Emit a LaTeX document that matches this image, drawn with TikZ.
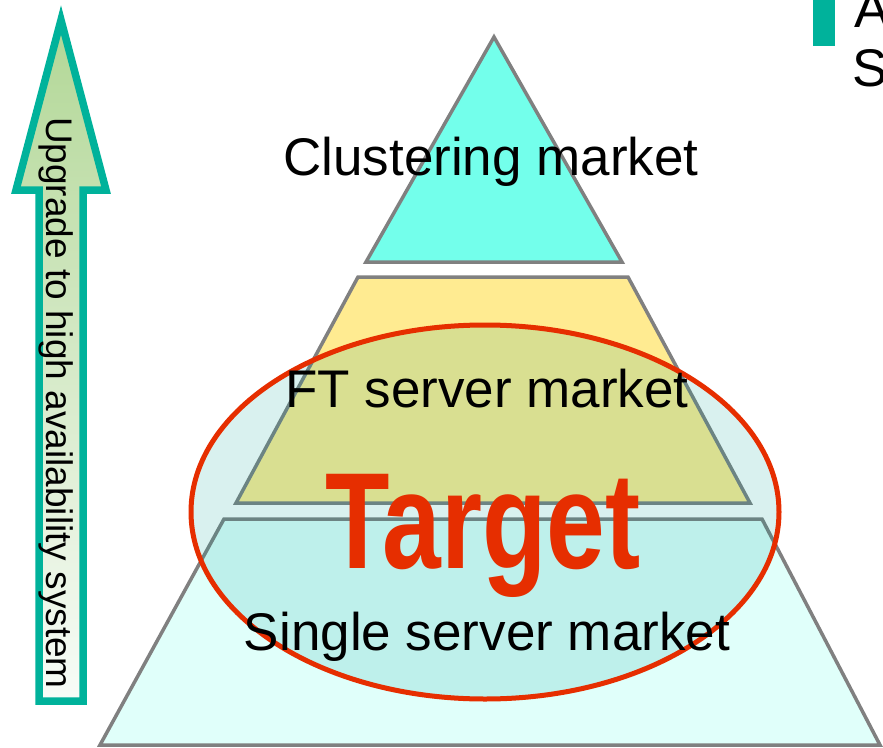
\documentclass[tikz,border=0pt]{standalone}
\usepackage{fontspec}
\setmainfont{Liberation Sans}
\usepackage{graphicx}
\definecolor{clusterfill}{RGB}{115,255,235}
\definecolor{ftfill}{RGB}{255,235,145}
\definecolor{singlefill}{RGB}{224,255,250}
\definecolor{edgegray}{RGB}{128,128,128}
\definecolor{targetred}{RGB}{230,46,0}
\definecolor{ellfill}{RGB}{0,160,150}
\definecolor{tealc}{RGB}{0,178,155}
\definecolor{arrowtop}{RGB}{178,215,150}
\definecolor{arrowbot}{RGB}{248,252,248}
\tikzset{
  layer/.style={draw=edgegray, line width=3.5bp, line join=miter},
  bigtext/.style={inner sep=0, anchor=base, font=\fontsize{53bp}{59bp}\selectfont},
}
\begin{document}
\begin{tikzpicture}[x=1bp,y=-1bp]
\useasboundingbox (0,0) rectangle (883,748);
\clip (0,0) rectangle (883,748);
% pyramid layers
\draw[layer, fill=singlefill] (224,519) -- (762,519) -- (880,745) -- (100,745) -- cycle;
\draw[layer, fill=ftfill] (358,277) -- (628,277) -- (750,503) -- (236,503) -- cycle;
\draw[layer, fill=clusterfill] (494,37) -- (622,262) -- (366,262) -- cycle;
% target ellipse
\fill[ellfill, fill opacity=0.15] (485,512) ellipse [x radius=294, y radius=187];
\draw[targetred, line width=5bp] (485,512) ellipse [x radius=294, y radius=187];
% labels
\node[bigtext] (cl) at (491,175) {Clustering market};
\node[bigtext] (ft) at (487,407) {FT server market};
\node[bigtext] (ss) at (487,650) {Single server market};
\node[inner sep=0, anchor=base, text=targetred, font=\bfseries\fontsize{137bp}{140bp}\selectfont] (tg) at (483,568) {\scalebox{0.77}[1]{Target}};
% upgrade arrow
\draw[draw=tealc, line width=7.5bp, line join=miter, top color=arrowtop, bottom color=arrowbot]
  (61,20) -- (106,190) -- (83,190) -- (83,701) -- (39,701) -- (39,190) -- (16,190) -- cycle;
\node[rotate=-90, anchor=base, inner sep=0, font=\fontsize{37bp}{40bp}\selectfont] (up) at (46,403) {Upgrade to high availability system};
% top-right legend fragment
\fill[tealc] (813,0) rectangle (835,46);
\node[bigtext, anchor=base west] (la) at (854,28) {A};
\node[bigtext, anchor=base west] (ls) at (852,87) {S};
\end{tikzpicture}
\end{document}
